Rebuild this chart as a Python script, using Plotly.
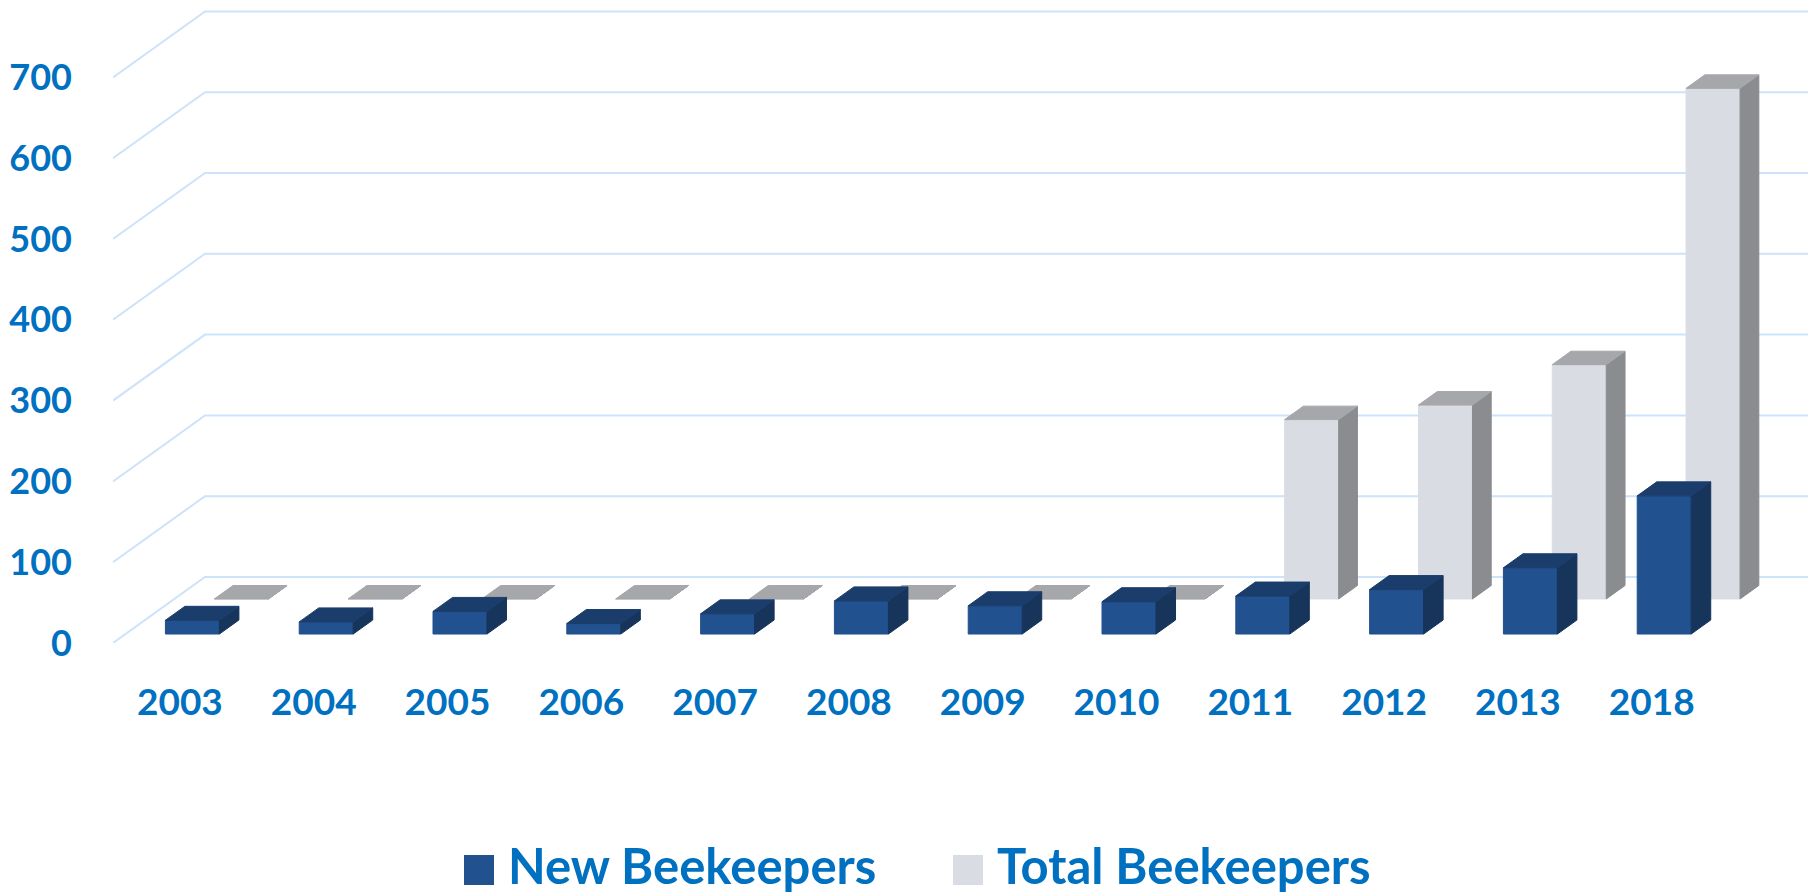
import plotly.graph_objects as go

# ---------------- data ----------------
years = ["2003", "2004", "2005", "2006", "2007", "2008", "2009", "2010",
         "2011", "2012", "2013", "2018"]
new_beekeepers = [17, 15, 28, 13, 25, 41, 35, 40, 47, 55, 82, 171]
total_beekeepers = [0, 0, 0, 0, 0, 0, 0, 0, 222, 240, 290, 632]
y_ticks = [0, 100, 200, 300, 400, 500, 600, 700]
series_names = ["New Beekeepers", "Total Beekeepers"]

# ---------------- layout / style ----------------
OFF = 8                     # default page body margin
W, H = 1816 - OFF, 896 - OFF
ML, MR, MT, MB = 105, 4, 0, 253
PX_PER_CAT = 133.8
PX_PER_UNIT = 0.808
PLOT_W = W - ML - MR
PLOT_H = H - MT - MB
X_MAX = PLOT_W / PX_PER_CAT
Y_MAX = PLOT_H / PX_PER_UNIT

DX = 92 / PX_PER_CAT      # full floor depth, in category units
DY = 66 / PX_PER_UNIT     # full floor depth, in value units
HALF_W = 27 / PX_PER_CAT  # half bar width

TEXT_BLUE = "#0070C0"
GRID = "#CCE3F9"
FONT = "Lato"

STYLES = {
    "New Beekeepers": dict(d0=0.136, d1=0.348,
                           front="#21518F", top="#1B3D6C", side="#17345B"),
    "Total Beekeepers": dict(d0=0.667, d1=0.871,
                             front="#D9DCE3", top="#A6A7AB", side="#8B8C90"),
}


def bar_faces(values, d0, d1):
    fx, fy, tx, ty, sx, sy = [], [], [], [], [], []
    for i, v in enumerate(values):
        c = i + 0.5
        xl, xr = c - HALF_W, c + HALF_W
        ox0, oy0 = d0 * DX, d0 * DY
        ox1, oy1 = d1 * DX, d1 * DY
        fx += [xl + ox0, xr + ox0, xr + ox0, xl + ox0, xl + ox0, None]
        fy += [oy0, oy0, v + oy0, v + oy0, oy0, None]
        tx += [xl + ox0, xr + ox0, xr + ox1, xl + ox1, xl + ox0, None]
        ty += [v + oy0, v + oy0, v + oy1, v + oy1, v + oy0, None]
        sx += [xr + ox0, xr + ox1, xr + ox1, xr + ox0, xr + ox0, None]
        sy += [oy0, oy1, v + oy1, v + oy0, oy0, None]
    return (fx, fy), (tx, ty), (sx, sy)


fig = go.Figure()

# gridlines (side wall + back wall)
gx, gy = [], []
for v in y_ticks:
    gx += [0, DX, 12 + DX, None]
    gy += [v, v + DY, v + DY, None]
fig.add_trace(go.Scatter(x=gx, y=gy, mode="lines",
                         line=dict(color=GRID, width=2),
                         hoverinfo="skip", showlegend=False))

# bars: back series first, then front series
for name, vals in [("Total Beekeepers", total_beekeepers),
                   ("New Beekeepers", new_beekeepers)]:
    st = STYLES[name]
    front, top, side = bar_faces(vals, st["d0"], st["d1"])
    for (xs, ys), col in [(front, st["front"]), (side, st["side"]), (top, st["top"])]:
        fig.add_trace(go.Scatter(x=xs, y=ys, mode="lines", fill="toself",
                                 fillcolor=col, line=dict(color=col, width=1),
                                 name=name, hoverinfo="skip", showlegend=False))


def px_x(page_x):
    return (page_x - OFF - ML) / PLOT_W


def px_y(page_y):
    return (H - MB - (page_y - OFF)) / PLOT_H


# manual legend
legend_items = [
    (series_names[0], STYLES[series_names[0]]["front"], 464),
    (series_names[1], STYLES[series_names[1]]["front"], 953),
]
shapes = []
annotations = []
for label, col, x0 in legend_items:
    shapes.append(dict(type="rect", xref="paper", yref="paper",
                       x0=px_x(x0), x1=px_x(x0 + 30),
                       y0=px_y(885), y1=px_y(855),
                       fillcolor=col, line=dict(width=0)))
    annotations.append(dict(text=label, xref="paper", yref="paper",
                            x=px_x(x0 + 42), y=px_y(865),
                            xanchor="left", yanchor="middle", showarrow=False,
                            font=dict(family=FONT, size=49, color=TEXT_BLUE,
                                      weight="bold")))

fig.update_layout(
    width=W, height=H,
    margin=dict(l=ML, r=MR, t=MT, b=MB, pad=0),
    paper_bgcolor="white", plot_bgcolor="white",
    showlegend=False,
    shapes=shapes, annotations=annotations,
    xaxis=dict(range=[0, X_MAX], tickvals=[i + 0.5 for i in range(len(years))],
               ticktext=years, showgrid=False, zeroline=False, showline=False,
               ticks="", ticklabelstandoff=34,
               tickfont=dict(family=FONT, size=37, color=TEXT_BLUE, weight="bold")),
    yaxis=dict(range=[0, Y_MAX], tickvals=y_ticks, showgrid=False,
               zeroline=False, showline=False, ticks="", ticklabelstandoff=40,
               tickfont=dict(family=FONT, size=36, color=TEXT_BLUE, weight="bold")),
)

fig.write_html("out.html")
